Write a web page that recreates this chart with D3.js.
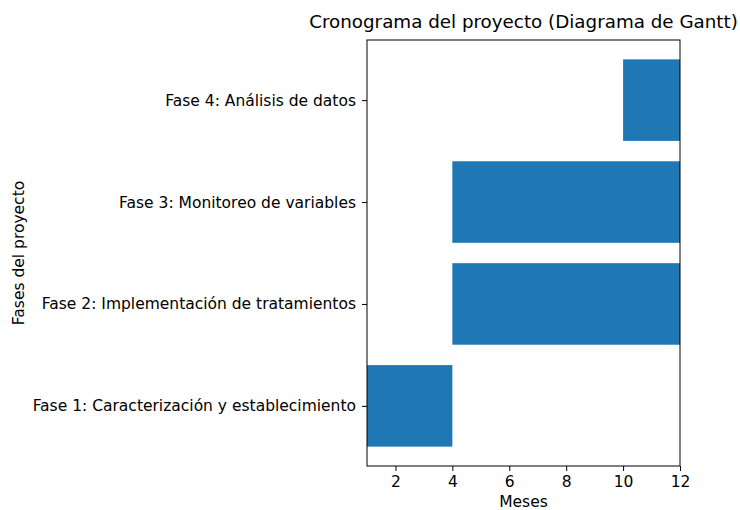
<!DOCTYPE html>
<html>
<head>
<meta charset="utf-8">
<script src="https://cdn.jsdelivr.net/npm/d3@7"></script>
<style>
  body { margin: 0; background: #fff; }
  svg text { font-family: "DejaVu Sans", sans-serif; fill: #000; }
</style>
</head>
<body>
<svg id="chart" width="740" height="510"></svg>
<script>
// Datos del cronograma
const fases = [
    'Fase 1: Caracterización y establecimiento',
    'Fase 2: Implementación de tratamientos',
    'Fase 3: Monitoreo de variables',
    'Fase 4: Análisis de datos'
];
const inicio = [1, 4, 4, 10];
const fin = [4, 12, 12, 12];
const mesesTicks = [2, 4, 6, 8, 10, 12];

const svg = d3.select('#chart');
const margin = { top: 40, right: 60, bottom: 44, left: 367 };
const width = +svg.attr('width');
const height = +svg.attr('height');
const plotW = width - margin.left - margin.right;
const plotH = height - margin.top - margin.bottom;

const plot = svg.append('g')
    .attr('transform', `translate(${margin.left},${margin.top})`);

// Escalas (como matplotlib: barras de 0.8 y 5% de margen)
const x = d3.scaleLinear().domain([1, 12]).range([0, plotW]);
const y = d3.scaleLinear().domain([-0.59, fases.length - 1 + 0.59]).range([plotH, 0]);
const barH = y(0) - y(0.8);

plot.selectAll('.bar')
    .data(fases)
    .enter().append('rect')
    .attr('class', 'bar')
    .attr('x', (d, i) => x(inicio[i]))
    .attr('y', (d, i) => y(i + 0.4))
    .attr('width', (d, i) => x(fin[i]) - x(inicio[i]))
    .attr('height', barH)
    .attr('fill', '#1f77b4');

// Ejes
const xAxis = d3.axisBottom(x).tickValues(mesesTicks).tickSize(5).tickPadding(5).tickSizeOuter(0);
const yAxis = d3.axisLeft(y).tickValues(d3.range(fases.length))
    .tickFormat(i => fases[i]).tickSize(5).tickPadding(6).tickSizeOuter(0);

const gx = plot.append('g')
    .attr('transform', `translate(0,${plotH})`)
    .call(xAxis);
const gy = plot.append('g').call(yAxis);

[gx, gy].forEach(g => {
    g.select('.domain').remove();
    g.selectAll('.tick line').attr('stroke', '#000').attr('stroke-width', 1);
    g.selectAll('.tick text').style('font-size', '15.5px');
});

// Marco
plot.append('rect')
    .attr('width', plotW)
    .attr('height', plotH)
    .attr('fill', 'none')
    .attr('stroke', '#000')
    .attr('stroke-width', 1);

// Títulos
svg.append('text')
    .attr('x', margin.left + plotW / 2)
    .attr('y', 28)
    .attr('text-anchor', 'middle')
    .style('font-size', '18.3px')
    .text('Cronograma del proyecto (Diagrama de Gantt)');

svg.append('text')
    .attr('x', margin.left + plotW / 2)
    .attr('y', 507)
    .attr('text-anchor', 'middle')
    .style('font-size', '15.5px')
    .text('Meses');

svg.append('text')
    .attr('transform', `translate(24,${margin.top + plotH / 2}) rotate(-90)`)
    .attr('text-anchor', 'middle')
    .style('font-size', '15.5px')
    .text('Fases del proyecto');
</script>
</body>
</html>
